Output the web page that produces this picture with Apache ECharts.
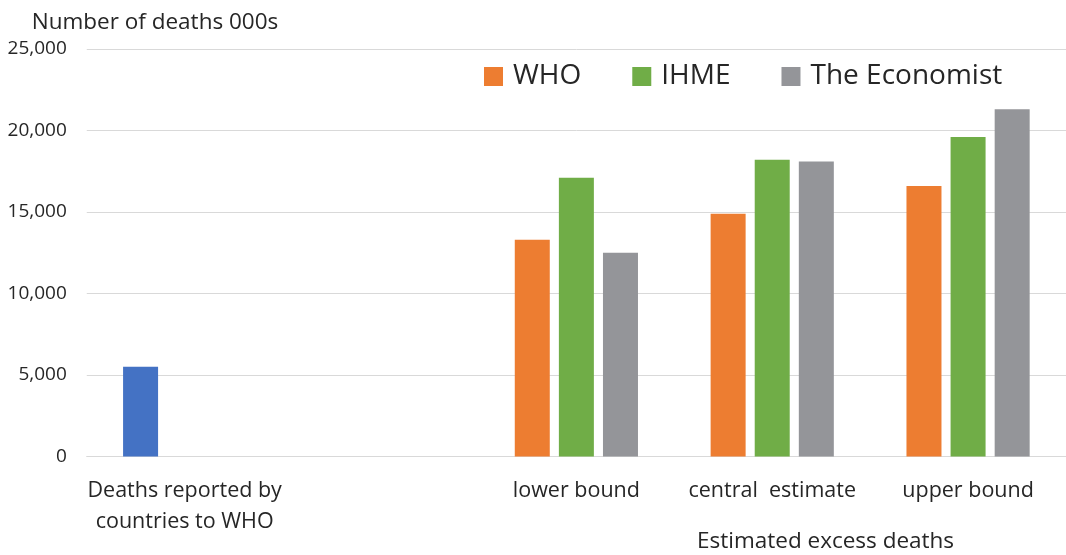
<!DOCTYPE html>
<html>
<head>
<meta charset="utf-8">
<script src="https://cdn.jsdelivr.net/npm/echarts@6/dist/echarts.min.js"></script>
<style>
  html, body { margin: 0; padding: 0; background: #ffffff; }
  #chart { width: 1066px; height: 555px; }
</style>
</head>
<body>
<div id="chart"></div>
<script>
// Categories along the x axis (the second slot is left empty as a spacer)
const categories = ['Deaths reported by\ncountries to WHO', '', 'lower bound', 'central  estimate', 'upper bound'];

// Number of deaths, thousands
const reported  = [5500, null, null, null, null];
const who       = [null, null, 13300, 14900, 16600];
const ihme      = [null, null, 17100, 18200, 19600];
const economist = [null, null, 12500, 18100, 21300];

const yTicks = { min: 0, max: 25000, interval: 5000 };

const FONT = '"Open Sans", "Noto Sans", sans-serif';
const TEXT = '#262626';
const GRID = '#d9d9d9';

const chart = echarts.init(document.getElementById('chart'), null, { renderer: 'canvas' });

const barCommon = { type: 'bar', barWidth: 35, barGap: '26%', barCategoryGap: '10%' };

chart.setOption({
  animation: false,
  backgroundColor: '#ffffff',
  textStyle: { fontFamily: FONT, color: TEXT },
  grid: { left: 86.75, right: -3.25, top: 49, bottom: 98.5, containLabel: false },
  legend: {
    data: ['WHO', 'IHME', 'The Economist'],
    left: 484,
    top: 62.5,
    padding: 0,
    itemWidth: 19,
    itemHeight: 19,
    itemGap: 51,
    icon: 'rect',
    textStyle: { fontFamily: FONT, fontSize: 28, color: TEXT, padding: [0, 0, 0, 5] }
  },
  xAxis: {
    type: 'category',
    data: categories,
    axisLine: { show: true, lineStyle: { color: GRID, width: 1 } },
    axisTick: { show: false },
    axisLabel: {
      interval: 0,
      margin: 19,
      fontFamily: FONT,
      fontSize: 21.5,
      lineHeight: 31,
      color: TEXT
    }
  },
  yAxis: {
    type: 'value',
    min: yTicks.min,
    max: yTicks.max,
    interval: yTicks.interval,
    name: 'Number of deaths 000s',
    nameLocation: 'end',
    nameGap: 15,
    nameTextStyle: { fontFamily: FONT, fontSize: 22.5, color: TEXT, align: 'left', padding: [0, 0, 0, -55] },
    axisLine: { show: false },
    axisTick: { show: false },
    splitLine: { lineStyle: { color: GRID, width: 1 } },
    axisLabel: {
      margin: 20,
      fontFamily: FONT,
      fontSize: 19,
      color: TEXT,
      formatter: v => v.toLocaleString('en-US')
    }
  },
  graphic: [{
    type: 'text',
    left: 697,
    top: 530,
    style: { text: 'Estimated excess deaths', font: '22.5px ' + FONT, fill: TEXT }
  }],
  series: [
    Object.assign({}, barCommon, { name: 'Reported', stack: 's1', data: reported, itemStyle: { color: '#4472C4' } }),
    Object.assign({}, barCommon, { name: 'WHO', stack: 's1', data: who, itemStyle: { color: '#ED7D31' } }),
    Object.assign({}, barCommon, { name: 'IHME', data: ihme, itemStyle: { color: '#70AD47' } }),
    Object.assign({}, barCommon, { name: 'The Economist', data: economist, itemStyle: { color: '#949599' } })
  ]
});
</script>
</body>
</html>
